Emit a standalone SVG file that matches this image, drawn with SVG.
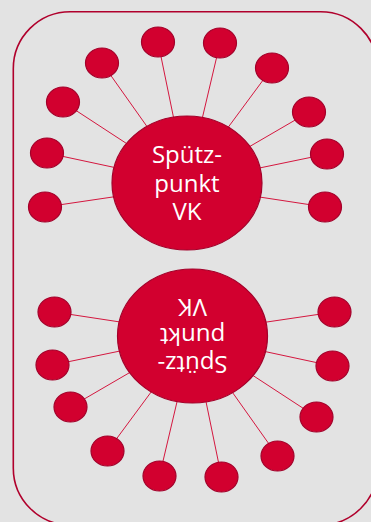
<svg xmlns="http://www.w3.org/2000/svg" width="371" height="522" viewBox="0 0 371 522">
  <defs>
    <style>
      .bg { fill: #e3e3e3; }
      .frame { fill: none; stroke: #b0002c; stroke-width: 1.6; }
      .link { stroke: #d4173f; stroke-width: 1; fill: none; }
      .hub { fill: #d2002f; stroke: #a3002a; stroke-width: 1.2; }
      .leaf { fill: #d2002f; stroke: #a3002a; stroke-width: 1.2; }
      .label { fill: #ffffff; font-family: "Open Sans", "Noto Sans", "DejaVu Sans", sans-serif; font-size: 24px; text-anchor: middle; }
    </style>
  </defs>
  <rect class="bg" x="0" y="0" width="371" height="522"/>
  <rect id="frame" class="frame" x="13.3" y="11.7" width="364.3" height="513.3" rx="57" ry="57"/>

  <!-- top cluster -->
  <g id="connectors-top">
    <line class="link" x1="158" y1="42" x2="187" y2="183"/>
    <line class="link" x1="220" y1="43" x2="187" y2="183"/>
    <line class="link" x1="102" y1="63" x2="187" y2="183"/>
    <line class="link" x1="272" y1="68" x2="187" y2="183"/>
    <line class="link" x1="63" y1="102" x2="187" y2="183"/>
    <line class="link" x1="309" y1="112" x2="187" y2="183"/>
    <line class="link" x1="47" y1="153" x2="187" y2="183"/>
    <line class="link" x1="327" y1="154" x2="187" y2="183"/>
    <line class="link" x1="45" y1="207" x2="187" y2="186"/>
    <line class="link" x1="325" y1="207" x2="187" y2="186"/>
  </g>
  <g id="top-n1"><ellipse class="leaf" cx="158" cy="42" rx="16.5" ry="15"/></g>
  <g id="top-n2"><ellipse class="leaf" cx="220" cy="43" rx="16.5" ry="15"/></g>
  <g id="top-n3"><ellipse class="leaf" cx="102" cy="63" rx="16.5" ry="15"/></g>
  <g id="top-n4"><ellipse class="leaf" cx="272" cy="68" rx="16.5" ry="15"/></g>
  <g id="top-n5"><ellipse class="leaf" cx="63" cy="102" rx="16.5" ry="15"/></g>
  <g id="top-n6"><ellipse class="leaf" cx="309" cy="112" rx="16.5" ry="15"/></g>
  <g id="top-n7"><ellipse class="leaf" cx="47" cy="153" rx="16.5" ry="15"/></g>
  <g id="top-n8"><ellipse class="leaf" cx="327" cy="154" rx="16.5" ry="15"/></g>
  <g id="top-n9"><ellipse class="leaf" cx="45" cy="207" rx="16.5" ry="15"/></g>
  <g id="top-n10"><ellipse class="leaf" cx="325" cy="207" rx="16.5" ry="15"/></g>
  <g id="top-hub">
    <ellipse class="hub" cx="187" cy="183" rx="75" ry="67"/>
    <text class="label" x="187" y="163">Spütz-</text>
    <text class="label" x="187" y="191.5">punkt</text>
    <text class="label" x="187" y="220">VK</text>
  </g>

  <!-- bottom cluster: same figure turned 180 degrees -->
  <g transform="rotate(180 189.75 259.5)">
    <g id="connectors-bottom">
      <line class="link" x1="158" y1="42" x2="187" y2="183"/>
      <line class="link" x1="220" y1="43" x2="187" y2="183"/>
      <line class="link" x1="102" y1="63" x2="187" y2="183"/>
      <line class="link" x1="272" y1="68" x2="187" y2="183"/>
      <line class="link" x1="63" y1="102" x2="187" y2="183"/>
      <line class="link" x1="309" y1="112" x2="187" y2="183"/>
      <line class="link" x1="47" y1="153" x2="187" y2="183"/>
      <line class="link" x1="327" y1="154" x2="187" y2="183"/>
      <line class="link" x1="45" y1="207" x2="187" y2="186"/>
      <line class="link" x1="325" y1="207" x2="187" y2="186"/>
    </g>
    <g id="bottom-n1"><ellipse class="leaf" cx="158" cy="42" rx="16.5" ry="15"/></g>
    <g id="bottom-n2"><ellipse class="leaf" cx="220" cy="43" rx="16.5" ry="15"/></g>
    <g id="bottom-n3"><ellipse class="leaf" cx="102" cy="63" rx="16.5" ry="15"/></g>
    <g id="bottom-n4"><ellipse class="leaf" cx="272" cy="68" rx="16.5" ry="15"/></g>
    <g id="bottom-n5"><ellipse class="leaf" cx="63" cy="102" rx="16.5" ry="15"/></g>
    <g id="bottom-n6"><ellipse class="leaf" cx="309" cy="112" rx="16.5" ry="15"/></g>
    <g id="bottom-n7"><ellipse class="leaf" cx="47" cy="153" rx="16.5" ry="15"/></g>
    <g id="bottom-n8"><ellipse class="leaf" cx="327" cy="154" rx="16.5" ry="15"/></g>
    <g id="bottom-n9"><ellipse class="leaf" cx="45" cy="207" rx="16.5" ry="15"/></g>
    <g id="bottom-n10"><ellipse class="leaf" cx="325" cy="207" rx="16.5" ry="15"/></g>
    <g id="bottom-hub">
      <ellipse class="hub" cx="187" cy="183" rx="75" ry="67"/>
      <text class="label" x="187" y="163">Spütz-</text>
      <text class="label" x="187" y="191.5">punkt</text>
      <text class="label" x="187" y="220">VK</text>
    </g>
  </g>
</svg>
